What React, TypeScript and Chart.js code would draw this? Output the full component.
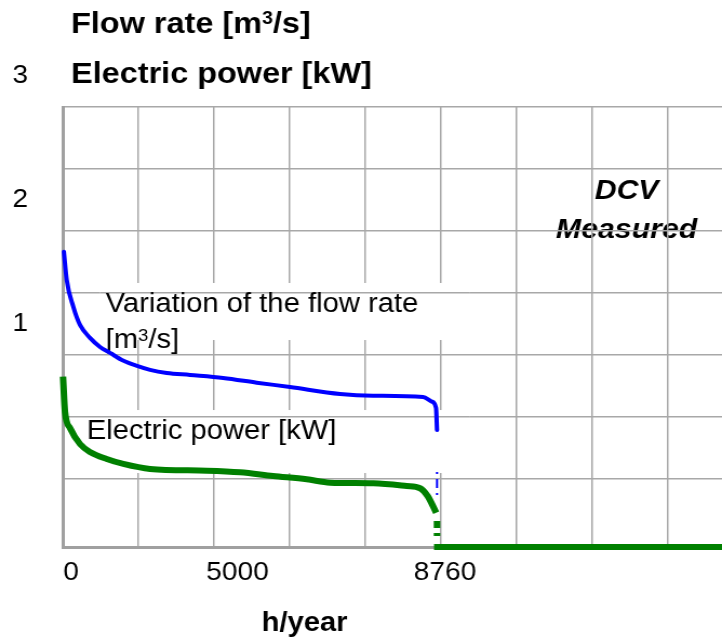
import React, { useEffect, useRef } from "react";
import { Chart, registerables } from "chart.js";

Chart.register(...registerables);

// ---------- data (hours per year / axis units as printed on the chart) ----------
const flowHours = [20, 87, 241, 398, 632, 867, 1101, 1405, 1733, 2038, 2429, 2975, 3748, 4537, 5317, 6489, 7262, 8433, 8637, 8737, 8760];
const flowValues = [1.583, 1.355, 1.139, 0.992, 0.887, 0.814, 0.766, 0.704, 0.661, 0.629, 0.604, 0.588, 0.564, 0.526, 0.491, 0.435, 0.421, 0.411, 0.373, 0.322, 0.144];
const flowDropHours = [8760, 8760];
const flowDropValues = [-0.195, -0.4];

const powerHours = [0, 47, 164, 398, 632, 1024, 1413, 2038, 3366, 4146, 4919, 5708, 6254, 7269, 8051, 8363, 8538, 8740];
const powerValues = [0.574, 0.289, 0.16, 0.031, -0.033, -0.09, -0.13, -0.17, -0.184, -0.197, -0.227, -0.254, -0.281, -0.286, -0.308, -0.326, -0.388, -0.523];
const powerDropHours = [8760, 8760];
const powerDropValues = [-0.59, -0.8];
const powerOffHours = [8690, 15435];
const powerOffValues = [-0.8, -0.8];

const xTickValues = [0, 3900, 8760];
const xTickLabels = ["0", "5000", "8760"];
const xGridValues = [1770, 3540, 5310, 7080, 8850, 10620, 12390, 14160];
const yTickValues = [1, 2, 3];
const yTickLabels = ["1", "2", "3"];
const yGridValues = [-0.25, 0.25, 0.75, 1.25, 1.75, 2.25, 2.75];

type Seg = { t: string; sup?: boolean };
const titleLine1: Seg[] = [{ t: "Flow rate [m" }, { t: "3", sup: true }, { t: "/s]" }];
const titleLine2: Seg[] = [{ t: "Electric power [kW]" }];
const xAxisTitle = "h/year";
const flowLabelLine1: Seg[] = [{ t: "Variation of the flow rate" }];
const flowLabelLine2: Seg[] = [{ t: "[m" }, { t: "3", sup: true }, { t: "/s]" }];
const powerLabel: Seg[] = [{ t: "Electric power [kW]" }];
const dcvLines = ["DCV", "Measured"];

// ---------- layout / style ----------
const PAGE_W = 722;
const CANVAS_W = 668; // canvas is stretched horizontally to PAGE_W like the reference
const S = PAGE_W / CANVAS_W;
const H = 640;
const FONT = "'Liberation Sans', Arial, Helvetica, sans-serif";
const GRID = "#a8a8a8";
const AXIS = "#a0a0a0";
const BLUE = "#0000ff";
const GREEN = "#008000";

const X_MIN = 0;
const X_MAX = 15435;
const Y_MIN = -0.8;
const Y_MAX = 2.75;

const boxes = [
  { x0: 867, x1: 9533, y0: 1.33, y1: 0.87 },
  { x0: 398, x1: 9533, y0: 0.305, y1: -0.203 },
];

const pts = (xs: number[], ys: number[]) => xs.map((x, i) => ({ x, y: ys[i] }));

function drawRich(ctx: CanvasRenderingContext2D, segs: Seg[], x: number, y: number, font: string, supFont: string, raise: number) {
  let cx = x;
  ctx.textAlign = "left";
  for (const s of segs) {
    ctx.font = s.sup ? supFont : font;
    ctx.fillText(s.t, cx, s.sup ? y - raise : y);
    cx += ctx.measureText(s.t).width;
  }
}

const annotationPlugin = {
  id: "annotations",
  beforeDraw(chart: any) {
    // text lying under the grid
    const { ctx } = chart;
    const x = chart.scales.x;
    const y = chart.scales.y;
    ctx.save();
    ctx.fillStyle = "#000";
    ctx.textBaseline = "alphabetic";
    ctx.font = `italic bold 28px ${FONT}`;
    ctx.textAlign = "center";
    const dx = x.getPixelForValue(13200);
    ctx.fillText(dcvLines[0], dx, y.getPixelForValue(2.008));
    ctx.fillText(dcvLines[1], dx, y.getPixelForValue(1.693));
    ctx.restore();
  },
  beforeDatasetsDraw(chart: any) {
    const { ctx } = chart;
    const x = chart.scales.x;
    const y = chart.scales.y;
    ctx.save();
    for (const b of boxes) {
      const left = x.getPixelForValue(b.x0);
      const right = x.getPixelForValue(b.x1);
      const top = y.getPixelForValue(b.y0);
      const bottom = y.getPixelForValue(b.y1);
      ctx.fillStyle = "#ffffff";
      ctx.fillRect(left, top, right - left, bottom - top);
      ctx.strokeStyle = GRID;
      ctx.lineWidth = 1.5;
      for (const g of yGridValues) {
        const py = Math.round(y.getPixelForValue(g) - 0.75) + 0.75;
        if (py > top && py < bottom) {
          ctx.beginPath();
          ctx.moveTo(left, py);
          ctx.lineTo(right, py);
          ctx.stroke();
        }
      }
    }
    ctx.fillStyle = "#000";
    ctx.textBaseline = "alphabetic";
    const reg = `27px ${FONT}`;
    const regSup = `17px ${FONT}`;
    const fx = x.getPixelForValue(1000);
    const fy = y.getPixelForValue(1.098);
    drawRich(ctx, flowLabelLine1, fx, fy, reg, regSup, 7);
    drawRich(ctx, flowLabelLine2, fx, fy + 36.5, reg, regSup, 7);
    drawRich(ctx, powerLabel, x.getPixelForValue(555), y.getPixelForValue(0.069), reg, regSup, 7);
    ctx.restore();
  },
  afterDraw(chart: any) {
    const { ctx } = chart;
    ctx.save();
    ctx.fillStyle = "#000";
    ctx.textBaseline = "alphabetic";
    const bold = `bold 30px ${FONT}`;
    const boldSup = `bold 18px ${FONT}`;
    drawRich(ctx, titleLine1, 71 / S, 33.3, bold, boldSup, 9);
    drawRich(ctx, titleLine2, 71 / S, 83.3, bold, boldSup, 9);
    ctx.textAlign = "center";
    ctx.font = `bold 27px ${FONT}`;
    ctx.fillText(xAxisTitle, 304.5 / S, 630.7);
    ctx.restore();
  },
};

export default function App() {
  const canvasRef = useRef<HTMLCanvasElement | null>(null);

  useEffect(() => {
    const canvas = canvasRef.current;
    if (!canvas) return;
    const allX = Array.from(new Set([...xTickValues, ...xGridValues])).sort((a, b) => a - b);
    const allY = Array.from(new Set([...yTickValues, ...yGridValues])).sort((a, b) => a - b);
    const base = {
      pointRadius: 0,
      pointHoverRadius: 0,
      fill: false,
      clip: false as any,
    };
    const chart = new Chart(canvas, {
      type: "line",
      data: {
        datasets: [
          {
            ...base,
            label: "Flow rate",
            data: pts(flowHours, flowValues),
            borderColor: BLUE,
            borderWidth: 4,
            cubicInterpolationMode: "monotone",
            borderCapStyle: "round",
          },
          {
            ...base,
            label: "Flow rate drop",
            data: pts(flowDropHours, flowDropValues),
            borderColor: BLUE,
            borderWidth: 2,
            borderDash: [2, 5, 9, 5, 2, 40],
          },
          {
            ...base,
            label: "Electric power",
            data: pts(powerHours, powerValues),
            borderColor: GREEN,
            borderWidth: 6,
            cubicInterpolationMode: "monotone",
          },
          {
            ...base,
            label: "Electric power drop",
            data: pts(powerDropHours, powerDropValues),
            borderColor: GREEN,
            borderWidth: 6,
            borderDash: [7, 5, 3, 40],
          },
          {
            ...base,
            label: "Electric power off",
            data: pts(powerOffHours, powerOffValues),
            borderColor: GREEN,
            borderWidth: 6,
          },
        ],
      } as any,
      options: {
        responsive: false,
        maintainAspectRatio: false,
        animation: false,
        devicePixelRatio: 1,
        events: [],
        layout: { padding: { left: 0, right: 0, top: 107, bottom: 43 } },
        plugins: {
          legend: { display: false },
          tooltip: { enabled: false },
          title: { display: false },
        },
        scales: {
          x: {
            type: "linear",
            min: X_MIN,
            max: X_MAX,
            afterBuildTicks: (s: any) => {
              s.ticks = allX.map((v) => ({ value: v }));
            },
            afterFit: (s: any) => {
              s.height = 50;
              s.paddingLeft = 0;
              s.paddingRight = 0;
            },
            grid: {
              color: (c: any) => (c.tick && xGridValues.includes(c.tick.value) ? GRID : "rgba(0,0,0,0)"),
              lineWidth: 1.5,
              drawTicks: false,
            },
            border: { display: true, color: AXIS, width: 3 },
            ticks: {
              autoSkip: false,
              maxRotation: 0,
              minRotation: 0,
              padding: 10,
              labelOffset: 7.4,
              color: "#000",
              font: { family: FONT, size: 26 },
              callback: (v: any) => {
                const i = xTickValues.indexOf(Number(v));
                return i >= 0 ? xTickLabels[i] : "";
              },
            },
          },
          y: {
            type: "linear",
            min: Y_MIN,
            max: Y_MAX,
            afterBuildTicks: (s: any) => {
              s.ticks = allY.map((v) => ({ value: v }));
            },
            afterFit: (s: any) => {
              s.width = 63 / S;
              s.paddingTop = 0;
              s.paddingBottom = 0;
            },
            grid: {
              color: (c: any) => (c.tick && yGridValues.includes(c.tick.value) ? GRID : "rgba(0,0,0,0)"),
              lineWidth: 1.5,
              drawTicks: false,
            },
            border: { display: true, color: AXIS, width: 3 },
            ticks: {
              autoSkip: false,
              padding: 63 / S - 28 / S,
              color: "#000",
              font: { family: FONT, size: 26 },
              callback: (v: any) => {
                const i = yTickValues.indexOf(Number(v));
                return i >= 0 ? yTickLabels[i] : "";
              },
            },
          },
        },
      } as any,
      plugins: [annotationPlugin],
    });
    return () => chart.destroy();
  }, []);

  return (
    <div style={{ position: "fixed", left: 0, top: 0, width: PAGE_W, height: H, background: "#fff" }}>
      <canvas
        ref={canvasRef}
        width={CANVAS_W}
        height={H}
        style={{ display: "block", width: `${PAGE_W}px`, height: `${H}px` }}
      />
    </div>
  );
}
